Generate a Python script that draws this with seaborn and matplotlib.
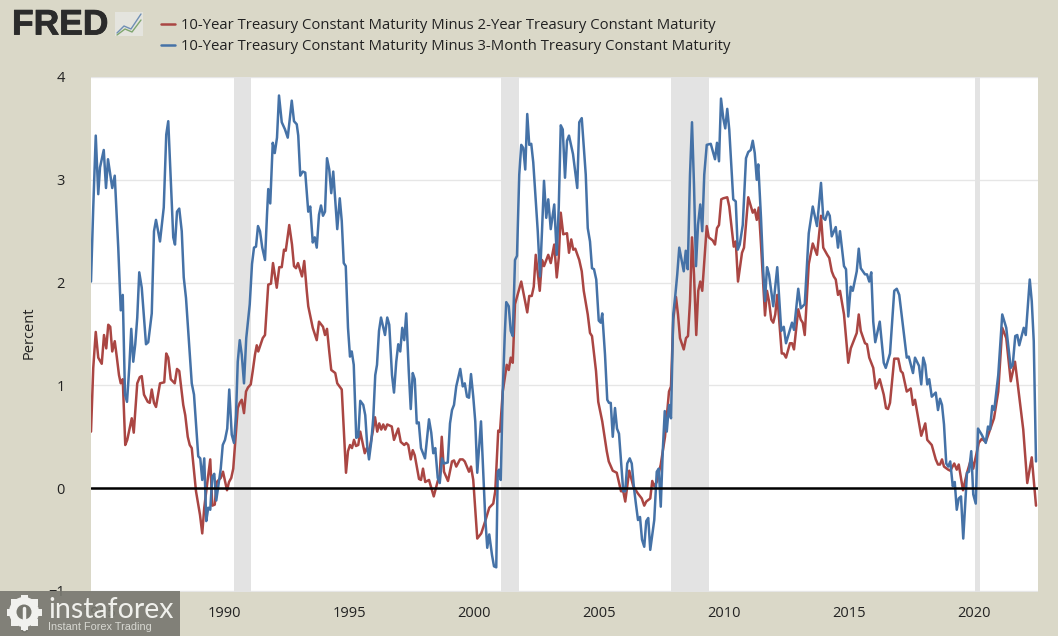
import matplotlib
matplotlib.use("Agg")
import matplotlib.pyplot as plt
import matplotlib.patheffects as pe
import pandas as pd
import seaborn as sns
from matplotlib.lines import Line2D
from matplotlib.patches import Ellipse, Rectangle

# values, (decimal year, percent)
years_2y = [1984.68,1984.77,1984.87,1984.97,1985.11,1985.20,1985.29,1985.37,1985.45,1985.53,1985.63,1985.71,1985.80,1985.87,1985.95,
1986.05,1986.13,1986.31,1986.39,1986.53,1986.63,1986.71,1986.80,1986.95,1987.03,1987.11,1987.20,1987.28,1987.44,1987.61,1987.69,1987.77,1987.87,
1988.03,1988.12,1988.21,1988.37,1988.45,1988.55,1988.63,1988.71,1988.88,1989.04,1989.13,1989.21,1989.32,1989.45,1989.53,1989.63,1989.71,1989.87,1989.96,
1990.12,1990.20,1990.29,1990.37,1990.45,1990.55,1990.63,1990.71,1990.80,1990.88,1990.96,1991.07,1991.15,1991.24,1991.31,1991.37,1991.55,1991.64,1991.77,1991.88,1991.96,
1992.11,1992.21,1992.31,1992.40,1992.47,1992.61,1992.72,1992.80,1992.88,1992.96,1993.12,1993.21,1993.31,1993.37,1993.55,1993.71,1993.80,1993.96,
1994.04,1994.12,1994.21,1994.29,1994.45,1994.53,1994.71,1994.88,1994.96,1995.04,1995.12,1995.20,1995.28,1995.37,1995.45,1995.63,1995.71,1995.79,1995.95,
1996.04,1996.13,1996.21,1996.29,1996.37,1996.45,1996.53,1996.71,1996.80,1996.97,1997.07,1997.21,1997.29,1997.37,1997.47,1997.55,1997.63,1997.80,1997.88,1997.96,
1998.05,1998.20,1998.39,1998.55,1998.63,1998.71,1998.80,1998.96,1999.12,1999.20,1999.29,1999.44,1999.55,1999.63,1999.80,1999.88,1999.97,
2000.13,2000.29,2000.45,2000.61,2000.77,2000.85,2000.97,2001.04,2001.15,2001.31,2001.39,2001.47,2001.55,2001.64,2001.89,
2002.13,2002.21,2002.31,2002.39,2002.47,2002.63,2002.72,2002.80,2002.97,2003.07,2003.21,2003.31,2003.39,2003.47,2003.57,2003.72,2003.80,2003.89,2003.97,
2004.05,2004.21,2004.31,2004.39,2004.55,2004.64,2004.72,2004.88,2004.97,2005.13,2005.31,2005.39,2005.55,2005.71,2005.88,2005.97,
2006.05,2006.21,2006.37,2006.55,2006.71,2006.81,2006.89,2007.05,2007.13,2007.21,2007.31,2007.47,2007.64,2007.80,2007.88,2007.97,
2008.08,2008.16,2008.24,2008.39,2008.48,2008.56,2008.64,2008.72,2008.80,2008.89,2008.97,2009.05,2009.13,2009.31,2009.39,2009.55,2009.64,2009.72,2009.80,2009.89,2009.97,
2010.13,2010.21,2010.39,2010.47,2010.56,2010.72,2010.80,2010.97,2011.15,2011.23,2011.31,2011.39,2011.48,2011.64,2011.72,2011.80,2011.89,2011.97,
2012.05,2012.13,2012.31,2012.39,2012.48,2012.64,2012.72,2012.80,2012.97,2013.07,2013.15,2013.23,2013.39,2013.55,2013.72,2013.88,2013.97,
2014.13,2014.21,2014.31,2014.39,2014.47,2014.56,2014.64,2014.80,2014.97,2015.07,2015.23,2015.31,2015.39,2015.47,2015.64,2015.72,2015.81,2015.97,
2016.07,2016.23,2016.39,2016.48,2016.56,2016.64,2016.81,2016.97,2017.07,2017.15,2017.31,2017.47,2017.56,2017.64,2017.89,
2018.05,2018.13,2018.31,2018.47,2018.56,2018.64,2018.72,2018.80,2018.97,2019.05,2019.21,2019.31,2019.39,2019.56,2019.72,2019.89,2019.97,
2020.19,2020.31,2020.47,2020.64,2020.80,2020.97,2021.13,2021.29,2021.47,2021.64,2021.80,2021.97,2022.13,2022.31,2022.48]
values_2y = [0.55,1.17,1.52,1.27,1.21,1.49,1.36,1.59,1.57,1.33,1.43,1.28,1.10,1.02,1.06,
0.42,0.47,0.68,0.54,1.02,1.08,1.09,0.91,0.84,0.83,0.96,0.83,0.79,1.02,1.03,1.31,1.27,1.06,
1.02,1.16,1.14,0.81,0.71,0.50,0.42,0.39,-0.03,-0.26,-0.44,-0.19,0.03,0.28,-0.17,-0.16,0.06,0.10,0.16,
-0.02,0.06,0.10,0.19,0.45,0.78,0.83,0.86,0.73,0.94,0.98,1.01,1.14,1.30,1.39,1.33,1.46,1.49,1.98,1.99,2.19,
1.95,2.15,2.15,2.32,2.31,2.56,2.37,2.16,2.14,2.19,2.06,2.21,1.92,1.77,1.56,1.44,1.62,1.57,
1.49,1.55,1.33,1.15,1.12,1.02,0.96,0.15,0.36,0.42,0.39,0.47,0.41,0.42,0.55,0.34,0.39,0.34,0.55,
0.69,0.55,0.63,0.57,0.62,0.57,0.62,0.60,0.47,0.58,0.45,0.42,0.44,0.42,0.28,0.37,0.32,0.09,0.08,0.19,
0.06,0.08,-0.08,0.07,0.13,0.50,0.16,0.07,0.26,0.27,0.21,0.28,0.28,0.26,0.16,0.21,0.08,
-0.49,-0.44,-0.32,-0.19,-0.15,-0.03,0.56,0.55,0.94,1.20,1.15,1.27,1.22,1.79,2.01,
1.71,1.87,1.87,1.96,2.27,1.92,2.22,2.16,2.27,2.19,2.37,2.05,2.24,2.68,2.47,2.48,2.29,2.42,2.32,
2.33,2.22,2.11,1.92,1.69,1.51,1.48,1.14,0.84,0.65,0.36,0.26,0.17,0.15,-0.03,-0.03,
-0.13,0.17,0.02,-0.05,-0.10,-0.17,-0.13,-0.10,0.07,0.02,0.06,0.23,0.50,0.94,0.99,1.64,
1.86,1.69,1.46,1.35,1.46,1.48,1.82,2.44,2.08,1.49,1.92,2.01,1.92,2.55,2.44,2.41,2.37,2.53,2.56,2.81,2.82,
2.83,2.74,2.35,2.40,2.01,2.29,2.34,2.83,2.68,2.71,2.61,2.73,2.37,1.68,1.92,1.82,1.64,1.61,
1.69,1.88,1.31,1.31,1.27,1.41,1.41,1.35,1.74,1.64,1.61,1.49,2.18,2.38,2.27,2.65,2.34,
2.27,2.24,2.11,2.06,2.03,1.88,1.92,1.69,1.22,1.36,1.46,1.51,1.69,1.53,1.41,1.40,1.27,1.17,
0.97,1.06,0.91,0.78,0.77,0.83,1.26,1.26,1.14,1.12,0.94,0.97,0.81,0.86,0.51,
0.63,0.47,0.42,0.28,0.23,0.23,0.28,0.21,0.18,0.17,0.24,0.18,0.23,-0.02,0.15,0.29,0.19,
0.44,0.48,0.45,0.57,0.68,0.94,1.56,1.46,1.04,1.23,0.91,0.57,0.05,0.30,-0.17]

years_3m = [1984.68,1984.77,1984.87,1984.97,1985.04,1985.19,1985.28,1985.36,1985.53,1985.63,1985.77,1985.87,1985.95,
1986.04,1986.12,1986.21,1986.29,1986.37,1986.45,1986.53,1986.61,1986.71,1986.88,1986.97,1987.11,1987.20,1987.28,1987.44,1987.59,1987.69,1987.77,1987.88,1987.97,
1988.04,1988.12,1988.21,1988.31,1988.39,1988.48,1988.71,1988.80,1988.97,1989.05,1989.13,1989.21,1989.29,1989.37,1989.45,1989.53,1989.61,1989.69,1989.87,1989.95,
1990.04,1990.13,1990.21,1990.31,1990.40,1990.48,1990.55,1990.63,1990.71,1990.80,1990.89,1991.03,1991.12,1991.20,1991.28,1991.36,1991.44,1991.53,1991.64,1991.72,1991.77,1991.85,1991.95,
1992.03,1992.12,1992.20,1992.31,1992.44,1992.55,1992.71,1992.80,1992.91,1992.97,1993.05,1993.15,1993.25,1993.37,1993.45,1993.55,1993.63,1993.71,1993.80,1993.88,1993.96,
1994.04,1994.12,1994.21,1994.29,1994.37,1994.53,1994.63,1994.71,1994.79,1994.87,1994.96,1995.04,1995.11,1995.19,1995.29,1995.37,1995.45,1995.57,1995.65,1995.73,1995.80,1995.89,1995.97,
1996.05,1996.12,1996.20,1996.28,1996.44,1996.53,1996.61,1996.72,1996.80,1996.89,1996.97,1997.05,1997.13,1997.21,1997.29,1997.39,1997.47,1997.55,1997.63,1997.71,1997.79,1997.88,
1998.04,1998.20,1998.29,1998.37,1998.45,1998.55,1998.63,1998.72,1998.80,1998.95,1999.04,1999.12,1999.20,1999.29,1999.45,1999.55,1999.63,1999.72,1999.80,1999.88,1999.97,
2000.05,2000.13,2000.28,2000.37,2000.45,2000.53,2000.61,2000.72,2000.80,2000.89,2000.95,2001.00,2001.07,2001.15,2001.23,2001.29,2001.39,2001.47,2001.55,2001.64,2001.72,2001.81,2001.89,2001.97,
2002.05,2002.13,2002.21,2002.29,2002.37,2002.55,2002.64,2002.72,2002.80,2002.89,2002.97,2003.07,2003.21,2003.31,2003.39,2003.47,2003.55,2003.64,2003.72,2003.80,2003.96,
2004.13,2004.21,2004.31,2004.47,2004.55,2004.64,2004.72,2004.80,2004.89,2004.99,2005.07,2005.13,2005.24,2005.33,2005.40,2005.47,2005.55,2005.64,2005.72,2005.80,2005.89,2005.97,
2006.05,2006.13,2006.23,2006.31,2006.40,2006.48,2006.56,2006.64,2006.72,2006.81,2006.89,2006.97,2007.05,2007.21,2007.31,2007.39,2007.47,2007.55,2007.63,2007.71,2007.80,2007.88,2007.97,
2008.05,2008.13,2008.21,2008.31,2008.39,2008.47,2008.55,2008.64,2008.72,2008.80,2008.88,2008.96,2009.05,2009.13,2009.21,2009.31,2009.47,2009.64,2009.72,2009.80,2009.88,2009.97,
2010.05,2010.13,2010.21,2010.37,2010.47,2010.55,2010.63,2010.75,2010.88,2010.97,2011.07,2011.15,2011.23,2011.31,2011.37,2011.48,2011.57,2011.64,2011.72,2011.80,2011.97,
2012.13,2012.29,2012.39,2012.48,2012.72,2012.80,2012.97,2013.07,2013.23,2013.39,2013.55,2013.72,2013.88,2013.97,
2014.05,2014.15,2014.23,2014.31,2014.47,2014.56,2014.64,2014.80,2014.88,2014.97,2015.07,2015.15,2015.31,2015.39,2015.47,2015.64,2015.72,2015.81,2015.89,2015.97,
2016.05,2016.23,2016.39,2016.47,2016.64,2016.81,2016.91,2017.01,2017.31,2017.39,2017.56,2017.64,2017.80,2017.89,2017.97,
2018.05,2018.13,2018.21,2018.31,2018.47,2018.56,2018.64,2018.72,2018.80,2018.89,2018.97,2019.05,2019.15,2019.23,2019.31,2019.39,2019.48,2019.57,2019.72,2019.80,2019.89,2019.97,
2020.07,2020.16,2020.31,2020.47,2020.56,2020.64,2020.73,2020.81,2020.97,2021.13,2021.29,2021.47,2021.55,2021.65,2021.73,2021.81,2021.99,2022.07,2022.23,2022.31,2022.39,2022.48]
values_3m = [2.01,2.73,3.43,2.86,3.12,3.29,2.92,3.20,2.92,3.04,2.34,1.73,1.88,
0.91,0.84,1.17,1.55,1.23,1.40,1.66,2.10,1.95,1.40,1.42,1.70,2.50,2.61,2.40,2.73,3.44,3.57,2.95,2.44,
2.37,2.69,2.72,2.50,2.05,1.85,1.02,0.91,0.31,0.29,0.08,0.29,-0.32,-0.19,-0.21,0.11,0.14,-0.12,0.19,0.42,
0.47,0.58,0.96,0.52,0.44,0.71,1.23,1.44,1.30,1.02,1.46,1.79,2.18,2.34,2.35,2.55,2.50,2.34,2.22,2.66,2.91,2.77,3.36,
3.26,3.41,3.82,3.56,3.49,3.41,3.77,3.57,3.54,3.43,3.04,3.08,3.07,2.69,2.74,2.39,2.44,2.34,2.66,2.75,2.65,
2.69,3.21,3.10,2.87,3.08,2.52,2.82,2.60,2.19,2.16,1.56,1.28,1.33,1.20,0.49,0.50,0.85,0.81,0.71,0.41,0.28,0.45,0.68,
1.10,1.20,1.53,1.66,1.49,1.66,1.59,1.10,0.93,1.23,1.40,1.33,1.56,1.44,1.70,1.14,0.77,1.12,1.06,0.63,0.64,0.39,
0.29,0.67,0.54,0.34,0.39,0.10,0.05,0.29,0.24,0.25,0.63,0.76,0.81,0.99,1.16,0.99,1.02,0.89,0.88,1.11,0.89,
0.65,0.15,0.65,0.16,-0.29,-0.58,-0.45,-0.65,-0.76,-0.77,0.16,0.18,0.08,0.94,1.49,1.81,1.77,1.53,1.48,2.22,2.26,3.05,3.34,3.31,
3.10,3.64,3.34,3.35,3.17,2.50,2.06,2.50,2.99,2.63,2.81,2.52,2.76,2.27,2.73,3.53,3.49,3.02,3.38,3.43,3.25,
2.92,3.56,3.60,3.05,2.53,2.40,2.14,2.13,2.03,1.63,1.61,1.70,1.30,0.86,0.83,0.83,0.50,0.78,0.58,0.53,0.23,-0.03,
-0.03,0.24,0.29,0.24,0.00,-0.16,-0.31,-0.28,-0.50,-0.57,-0.32,-0.29,-0.60,-0.31,0.16,0.19,-0.18,0.36,0.75,0.55,0.81,0.68,1.69,
1.87,2.08,2.34,2.21,2.11,2.31,2.13,3.05,3.56,2.95,2.16,2.56,2.76,2.50,3.05,3.34,3.35,3.20,3.36,3.18,3.79,3.60,
3.50,3.69,3.49,2.81,2.79,2.32,2.37,2.56,3.21,3.27,3.29,3.38,3.26,3.00,3.15,2.63,2.11,1.82,2.15,2.08,1.77,
2.15,1.53,1.57,1.41,1.61,1.54,1.94,1.75,1.79,2.48,2.74,2.55,2.97,2.63,
2.61,2.69,2.65,2.45,2.54,2.34,2.50,2.16,2.13,1.67,1.96,1.92,2.11,2.33,2.14,2.08,2.08,2.01,2.10,1.62,
1.42,1.62,1.22,1.17,1.31,1.92,1.94,1.88,1.27,1.28,1.12,1.27,1.19,1.01,1.27,
1.20,1.01,1.06,0.89,0.93,0.76,0.87,0.81,0.62,0.24,0.21,0.26,0.02,0.06,-0.21,-0.10,-0.08,-0.49,0.15,0.16,0.36,-0.06,
-0.15,0.58,0.52,0.44,0.60,0.57,0.80,0.76,1.10,1.69,1.56,1.17,1.20,1.48,1.49,1.39,1.56,1.49,2.03,1.82,1.43,0.26]

recession_start = [1990.40, 2001.08, 2007.88, 2020.04]
recession_end = [1991.08, 2001.80, 2009.40, 2020.24]
x_ticks = [1985, 1990, 1995, 2000, 2005, 2010, 2015, 2020]
y_ticks = [-1, 0, 1, 2, 3, 4]

label_2y = "10-Year Treasury Constant Maturity Minus 2-Year Treasury Constant Maturity"
label_3m = "10-Year Treasury Constant Maturity Minus 3-Month Treasury Constant Maturity"

W, H = 1058, 636
BG = "#DAD8C8"
MARK = "#F1F1EE"

sns.set_theme(style="white")
plt.rcParams["font.family"] = ["Open Sans", "DejaVu Sans"]

fig = plt.figure(figsize=(W / 100, H / 100), dpi=100, facecolor=BG)
ax = fig.add_axes([91 / W, 1 - 592 / H, 947 / W, 515 / H])
ax.set_facecolor("white")

df_2y = pd.DataFrame({"year": years_2y, "value": values_2y})
df_3m = pd.DataFrame({"year": years_3m, "value": values_3m})

sns.lineplot(data=df_2y, x="year", y="value", color="#AA4643", linewidth=1.8, estimator=None, label=label_2y, ax=ax, zorder=3)
sns.lineplot(data=df_3m, x="year", y="value", color="#4572A7", linewidth=1.8, estimator=None, label=label_3m, ax=ax, zorder=4)

for start, end in zip(recession_start, recession_end):
    ax.axvspan(start, end, color="#E3E3E3", lw=0, zorder=2)

ax.axhline(0, color="black", linewidth=1.8, zorder=5)
ax.set_xlim(1984.68, 2022.56)
ax.set_ylim(-1.01, 4)
ax.set_xticks(x_ticks)
ax.set_yticks(y_ticks)
ax.grid(axis="y", color="#E6E6E6", linewidth=1, zorder=1)
ax.set_axisbelow(True)
ax.tick_params(axis="x", length=0, pad=10, labelsize=10.5, labelcolor="#222222")
ax.tick_params(axis="y", length=0, pad=19, labelsize=10.5, labelcolor="#222222")
ax.set_xlabel("")
ax.set_ylabel("")
sns.despine(ax=ax, left=True, bottom=True, top=True, right=True)
fig.text(29 / W, 1 - 333 / H, "Percent", rotation=90, ha="center", va="center", fontsize=10.5, color="#222222")

ax.get_legend().remove()
handles, labels = ax.get_legend_handles_labels()
fig.legend(handles, labels, loc="upper left", bbox_to_anchor=(148 / W, 1 - 5 / H), frameon=False,
           fontsize=10.7, handlelength=0.95, handletextpad=0.4, labelspacing=0.38, labelcolor="#222222")

# FRED logo
fig.text(12 / W, 1 - 25 / H, "FRED", fontsize=25.5, fontweight="bold", family="Liberation Sans", color="#2B2B2B", ha="left", va="center",
         path_effects=[pe.withStroke(linewidth=0.6, foreground="#2B2B2B")])
fig.patches.append(Rectangle((115 / W, 1 - 36 / H), 28 / W, 24 / H, transform=fig.transFigure, facecolor="#E4E4DE", edgecolor="none"))
fig.lines.append(Line2D([117 / W, 124 / W, 131 / W, 141 / W], [1 - 33 / H, 1 - 26 / H, 1 - 29 / H, 1 - 14 / H], transform=fig.transFigure, color="#6F8FB5", lw=1))
fig.lines.append(Line2D([117 / W, 125 / W, 132 / W, 141 / W], [1 - 35 / H, 1 - 29 / H, 1 - 32 / H, 1 - 20 / H], transform=fig.transFigure, color="#7FA66F", lw=1))

# watermark over the lower left corner
fig.patches.append(Rectangle((0, 0), 180 / W, 45 / H, transform=fig.transFigure, facecolor="#77776F", alpha=0.9, edgecolor="none", zorder=8))
gear_x, gear_y = 24, 612
for dx, dy in [(0, -14), (10, -10), (14, 0), (10, 10), (0, 14), (-10, 10), (-14, 0), (-10, -10)]:
    fig.patches.append(Rectangle(((gear_x + dx - 3.5) / W, 1 - (gear_y + dy + 3.5) / H), 7 / W, 7 / H, transform=fig.transFigure,
                                 facecolor=MARK, edgecolor="none", zorder=9))
fig.patches.append(Ellipse((gear_x / W, 1 - gear_y / H), 30 / W, 30 / H, transform=fig.transFigure, facecolor=MARK, edgecolor="none", zorder=9))
fig.patches.append(Ellipse((gear_x / W, 1 - gear_y / H), 15 / W, 15 / H, transform=fig.transFigure, facecolor="#77776F", edgecolor="none", zorder=9))
fig.lines.append(Line2D([gear_x / W, gear_x / W], [1 - 608 / H, 1 - 629 / H], transform=fig.transFigure, color="#77776F", lw=5, zorder=9))
fig.lines.append(Line2D([gear_x / W, gear_x / W], [1 - 608 / H, 1 - 629 / H], transform=fig.transFigure, color=MARK, lw=2.5, zorder=10))
fig.text(48 / W, 1 - 610 / H, "instaforex", fontsize=20.5, family="Lato", color="#F0F0EC", ha="left", va="center", zorder=10)
fig.text(48 / W, 1 - 627 / H, "Instant Forex Trading", fontsize=7.8, family="Liberation Sans", color="#D8D8D2", ha="left", va="center", zorder=10)

fig.savefig("out.png", dpi=100, facecolor=BG)
